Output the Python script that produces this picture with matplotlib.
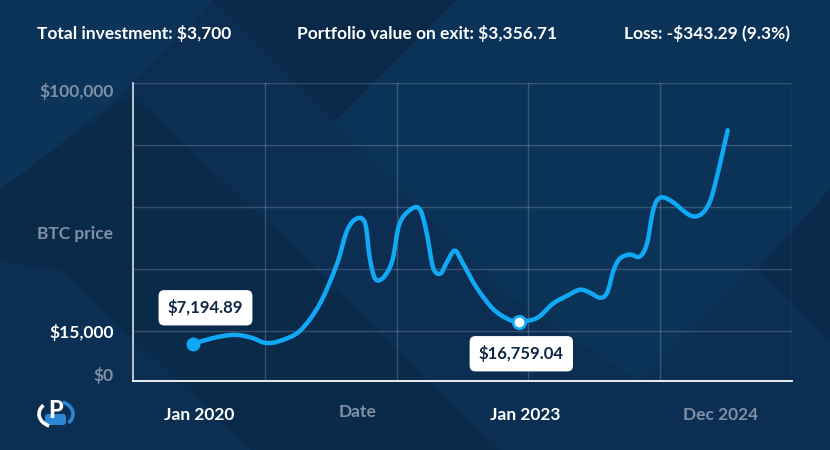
import numpy as np
from matplotlib import pyplot as plt
from matplotlib.patches import Polygon, FancyBboxPatch, PathPatch, Arc
from matplotlib.path import Path

# months since Jan 2020 and BTC price (USD)
months = [0.0, 2.3, 4.6, 6.5, 8.0, 9.6, 11.8, 14.0, 15.9, 17.0, 18.1, 19.0, 19.5, 20.1,
          21.0, 22.0, 22.8, 24.2, 25.1, 25.8, 26.5, 27.3, 28.0, 28.9, 29.8, 31.3, 33.1,
          34.7, 36.0, 38.0, 39.7, 41.3, 42.7, 43.8, 44.9, 45.7, 46.4, 47.1, 48.2, 49.3,
          50.1, 50.7, 51.2, 51.9, 53.0, 54.5, 55.4, 56.3, 57.1, 57.8, 58.5, 59.0]
prices = [7194.89, 10800, 12600, 10800, 7800, 9000, 15000, 23055, 37045, 48586, 52783,
          51034, 39143, 31798, 32148, 38094, 51034, 56281, 55581, 47537, 35646, 33547,
          37394, 41591, 37045, 28651, 21306, 17808, 16759.04, 18158, 23055, 25853, 27951,
          26902, 25153, 26902, 34596, 38793, 40192, 39493, 44040, 54532, 59079, 60128,
          58380, 54532, 53482, 54882, 59079, 67123, 76567, 83562]

start_value = 7194.89
low_value = 16759.04
low_month = 36

header = ["Total investment: $3,700", "Portfolio value on exit: $3,356.71",
          "Loss: -$343.29 (9.3%)"]
y_ticks = [0, 15000, 100000]
y_labels = ["$0", "$15,000", "$100,000"]
x_ticks = [0.7, 36.7, 58.2]
x_labels = ["Jan 2020", "Jan 2023", "Dec 2024"]

# the chart's price axis is stretched, not linear
knots_p = [0, 7194.89, 15000, 16759.04, 100000, 200000]
knots_h = [0, 37, 50, 59, 297, 297 + 100000 * 238 / 83241]


def fwd(p):
    return np.interp(p, knots_p, knots_h)


def inv(h):
    return np.interp(h, knots_h, knots_p)


def smooth_path(xs, ys):
    # catmull-rom through the points, drawn as cubic bezier segments
    pts = np.column_stack([xs, fwd(np.asarray(ys))])
    ext = np.vstack([pts[0], pts, pts[-1]])
    verts = [pts[0]]
    codes = [Path.MOVETO]
    for i in range(1, len(ext) - 2):
        p0, p1, p2, p3 = ext[i - 1], ext[i], ext[i + 1], ext[i + 2]
        verts += [p1 + (p2 - p0) / 6, p2 - (p3 - p1) / 6, p2]
        codes += [Path.CURVE4] * 3
    verts = np.array(verts)
    verts[:, 1] = inv(verts[:, 1])
    return Path(verts, codes)


plt.rcParams['font.family'] = ['Lato', 'DejaVu Sans']
W, H = 830, 450
fig = plt.figure(figsize=(8.3, 4.5), dpi=100, facecolor='#0b2e52')

# background shapes
bg = fig.add_axes([0, 0, 1, 1], zorder=-5)
bg.set_xlim(0, W)
bg.set_ylim(H, 0)
bg.axis('off')
bg.add_patch(Polygon([(0, 0), (W, 0), (W, H), (0, H)], color='#0b2e52'))
bg.add_patch(Polygon([(0, 0), (213, 0), (120, 95), (0, 190)], color='#0c3358'))
bg.add_patch(Polygon([(213, 0), (457, 0), (335, 122)], color='#0a2949'))
bg.add_patch(Polygon([(130, 95), (270, 225), (430, 385), (500, 450), (250, 450), (60, 270), (0, 260), (0, 190)],
                     color='#0a2a4a'))
bg.add_patch(Polygon([(457, 0), (W, 0), (W, 190), (640, 380), (508, 295), (335, 122)], color='#0b3358'))
bg.add_patch(Polygon([(W, 190), (W, 340), (760, 270)], color='#0a2a4b'))
bg.add_patch(Polygon([(0, 300), (60, 270), (250, 450), (0, 450)], color='#0b2f53'))

ax = fig.add_axes([133 / W, 1 - 381 / H, (792 - 133) / W, (381 - 83) / H])
ax.set_facecolor('none')
ax.set_yscale('function', functions=(fwd, inv))
ax.set_ylim(0, 100000)
ax.set_xlim(-6.62, 66.1)

# grid
for f in [0.2, 0.4, 0.6, 0.8, 1.0]:
    ax.plot([f, f], [0, 1], transform=ax.transAxes, color='white', alpha=0.18, lw=1, zorder=1)
for f in [50 / 297, 112 / 297, 173 / 297, 235 / 297, 1.0]:
    ax.plot([0, 1], [f, f], transform=ax.transAxes, color='white', alpha=0.18, lw=1, zorder=1)

for s in ['top', 'right']:
    ax.spines[s].set_visible(False)
ax.spines['left'].set_color('#c9d1db')
ax.spines['bottom'].set_color('#ffffff')
for s in ['left', 'bottom']:
    ax.spines[s].set_linewidth(1.3)

line_color = '#10a9f6'
ax.add_patch(PathPatch(smooth_path(months, prices), fill=False, ec=line_color, lw=3.2,
                       capstyle='round', joinstyle='round', zorder=3))
ax.plot([months[0]], [start_value], 'o', ms=9, color=line_color, zorder=4)
ax.plot([low_month], [low_value], 'o', ms=9, mfc='white', mec=line_color, mew=2, zorder=4)

box = dict(boxstyle='round,pad=0.55,rounding_size=0.35', fc='white', ec='none')
ax.annotate("$7,194.89", (months[0], start_value), xytext=(9, 26), textcoords='offset points',
            ha='center', va='center', fontsize=12, fontweight='bold', color='#0d2745',
            bbox=box, zorder=5)
ax.annotate("$16,759.04", (low_month, low_value), xytext=(1.5, -23), textcoords='offset points',
            ha='center', va='center', fontsize=12, fontweight='bold', color='#0d2745',
            bbox=box, zorder=5)

ax.set_yticks(y_ticks)
ax.set_yticklabels(y_labels)
ax.set_xticks(x_ticks)
ax.set_xticklabels(x_labels)
ax.tick_params(length=0)
ax.tick_params(axis='y', pad=14, labelsize=12.5)
ax.tick_params(axis='x', pad=19, labelsize=12.5)
ax.yaxis.set_minor_locator(plt.NullLocator())
gray = '#7f90a6'
for lab, c in zip(ax.get_yticklabels(), [gray, 'white', gray]):
    lab.set_color(c)
    lab.set_fontweight('bold')
for lab, c in zip(ax.get_xticklabels(), ['white', 'white', gray]):
    lab.set_color(c)
    lab.set_fontweight('bold')
ax.get_yticklabels()[2].set_verticalalignment('top')
ax.get_yticklabels()[0].set_verticalalignment('baseline')

fig.text(113 / W, 1 - 234 / H, "BTC price", ha='right', va='center', fontsize=12.5,
         fontweight='bold', color=gray)
fig.text(358 / W, 1 - 412 / H, "Date", ha='center', va='center', fontsize=12.5,
         fontweight='bold', color=gray)

hy = 1 - 33 / H
fig.text(37 / W, hy, header[0], ha='left', va='center', fontsize=12.5, fontweight='bold', color='white')
fig.text(427 / W, hy, header[1], ha='center', va='center', fontsize=12.5, fontweight='bold', color='white')
fig.text(790 / W, hy, header[2], ha='right', va='center', fontsize=12.5, fontweight='bold', color='white')

# logo
bg.add_patch(FancyBboxPatch((45, 414), 21, 11, boxstyle='round,pad=0,rounding_size=3',
                            fc='#2a86d6', ec='none', zorder=2))
bg.text(56, 410, "P", ha='center', va='center', fontsize=17, fontweight='black',
        color='white', zorder=3)
bg.add_patch(Arc((56, 414), 34, 26, theta1=120, theta2=215, color='white', lw=2.6, zorder=3))
bg.add_patch(Arc((56, 414), 34, 26, theta1=-60, theta2=35, color='#2a86d6', lw=2.6, zorder=3))

fig.savefig('out.png', dpi=100, facecolor=fig.get_facecolor())
